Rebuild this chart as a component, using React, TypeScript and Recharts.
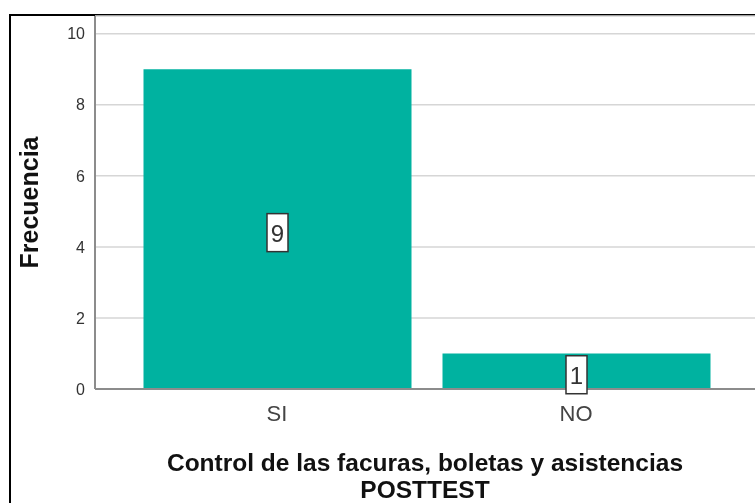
import { BarChart, Bar, XAxis, YAxis, CartesianGrid, LabelList, Label } from 'recharts';

const categories = ['SI', 'NO'];
const frecuencia = [9, 1];
const yTicks = [0, 2, 4, 6, 8, 10];
const xTitle = ['Control de las facuras, boletas y asistencias', 'POSTTEST'];
const yTitle = 'Frecuencia';

const data = categories.map((c, i) => ({ cat: c, v: frecuencia[i] }));

const FONT = 'Arial, "Liberation Sans", sans-serif';

function ValueBox(props: any) {
  const { x, y, width, height, value } = props;
  const cx = x + width / 2;
  const cy = y + height / 2 + 3.5;
  return (
    <g>
      <rect x={cx - 10.5} y={cy - 19} width={21} height={38} fill="#fff" stroke="#333" strokeWidth={1.5} />
      <text x={cx} y={cy + 9} textAnchor="middle" fontSize={24} fontFamily={FONT} fill="#333">
        {value}
      </text>
    </g>
  );
}

export default function App() {
  // fixed so the chart can run to the window's edge without scrollbars
  return (
    <div style={{ position: 'fixed', left: 8, top: 8, width: 747, height: 495, overflow: 'hidden' }}>
      <div
        style={{
          position: 'absolute',
          left: 1,
          top: 6,
          width: 746,
          height: 489,
          borderLeft: '2px solid #000',
          borderTop: '2px solid #000',
          boxSizing: 'border-box',
        }}
      />
      <BarChart width={747} height={495} data={data} margin={{ top: 8, right: 0, left: 0, bottom: 0 }}>
        <CartesianGrid vertical={false} stroke="#d6d6d6" strokeWidth={1.5} />
        <XAxis
          dataKey="cat"
          height={114}
          padding={{ left: 32.5, right: 29.5 }}
          stroke="#8c8c8c"
          strokeWidth={2}
          tickLine={false}
          tickSize={0}
          tickMargin={16}
          tick={{ fill: '#444', fontSize: 22, fontFamily: FONT }}
        >
          <Label
            content={(p: any) => {
              const vb = p.viewBox;
              const cx = vb.x + vb.width / 2;
              return (
                <text textAnchor="middle" fontSize={24.5} fontWeight="bold" fontFamily={FONT} fill="#111">
                  <tspan x={cx} y={vb.y + 82}>{xTitle[0]}</tspan>
                  <tspan x={cx} y={vb.y + 109}>{xTitle[1]}</tspan>
                </text>
              );
            }}
          />
        </XAxis>
        <YAxis
          width={87}
          domain={[0, 10.5]}
          ticks={yTicks}
          interval={0}
          stroke="#8c8c8c"
          strokeWidth={2}
          tickLine={false}
          tickSize={0}
          tickMargin={10}
          tick={{ fill: '#333', fontSize: 16, fontFamily: FONT }}
        >
          <Label
            content={(p: any) => {
              const vb = p.viewBox;
              const cy = vb.y + vb.height / 2;
              return (
                <text
                  x={30}
                  y={cy}
                  transform={`rotate(-90, 30, ${cy})`}
                  textAnchor="middle"
                  fontSize={25}
                  fontWeight="bold"
                  fontFamily={FONT}
                  fill="#111"
                >
                  {yTitle}
                </text>
              );
            }}
          />
        </YAxis>
        <Bar dataKey="v" fill="#00b2a0" barSize={268} isAnimationActive={false}>
          <LabelList dataKey="v" content={ValueBox} />
        </Bar>
      </BarChart>
    </div>
  );
}
